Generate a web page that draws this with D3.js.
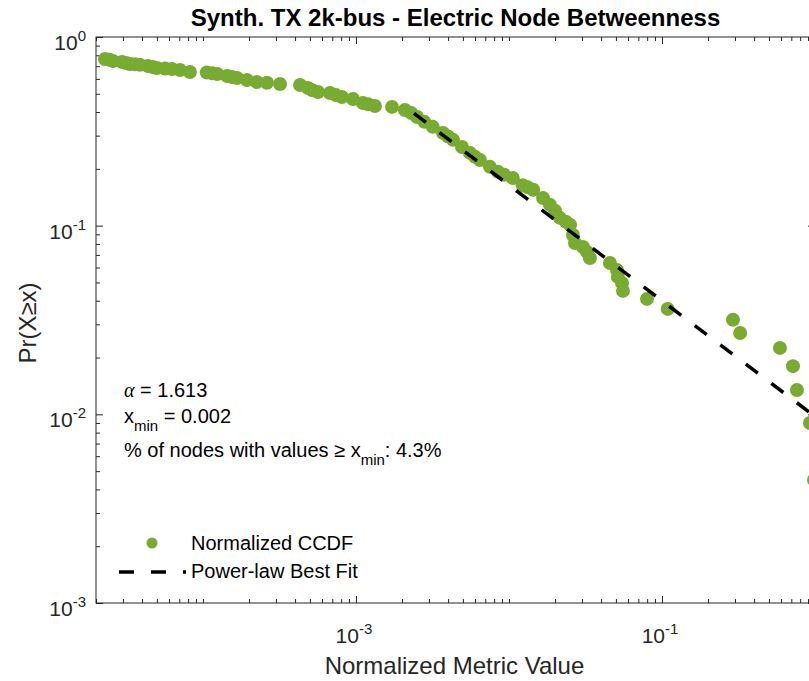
<!DOCTYPE html>
<html><head><meta charset="utf-8">
<script src="https://cdn.jsdelivr.net/npm/d3@7"></script>
<style>
body{margin:0;background:#fff}
text{font-family:"Liberation Sans",Arial,Helvetica,sans-serif}
</style>
</head><body><svg id="c" width="809" height="681"></svg>
<script>
const titleText = "Synth. TX 2k-bus - Electric Node Betweenness";
const xLabelText = "Normalized Metric Value";
const yLabelText = "Pr(X\u2265x)";
const ccdfX = [2.29e-5,2.45e-5,2.58e-5,2.96e-5,3.15e-5,3.33e-5,3.6e-5,3.87e-5,4.37e-5,4.7e-5,5.00e-5,5.65e-5,6.27e-5,7.08e-5,8.22e-5,
  1.06e-4,1.15e-4,1.24e-4,1.44e-4,1.55e-4,1.67e-4,1.94e-4,2.25e-4,2.62e-4,3.19e-4,
  4.31e-4,4.86e-4,5.2e-4,5.65e-4,6.76e-4,7.4e-4,8.10e-4,9.56e-4,1.11e-3,1.2e-3,1.33e-3,
  1.72e-3,2.09e-3,2.3e-3,2.51e-3,2.8e-3,3.18e-3,3.71e-3,4.0e-3,4.31e-3,4.93e-3,5.56e-3,6.0e-3,6.46e-3,7.51e-3,8.47e-3,9.3e-3,
  1.06e-2,1.23e-2,1.32e-2,1.44e-2,1.67e-2,1.85e-2,2.0e-2,2.15e-2,2.35e-2,2.51e-2,2.62e-2,2.70e-2,3.05e-2,3.24e-2,3.38e-2,
  4.57e-2,5.08e-2,5.15e-2,5.48e-2,5.56e-2,
  7.98e-2,0.109,0.291,0.324,0.590,0.718,0.762,0.927,0.985];
const ccdfY = [0.765,0.758,0.746,0.737,0.728,0.719,0.716,0.712,0.702,0.694,0.685,0.680,0.677,0.668,0.652,
  0.648,0.643,0.637,0.621,0.614,0.606,0.592,0.577,0.572,0.564,
  0.557,0.537,0.522,0.511,0.505,0.492,0.481,0.469,0.447,0.440,0.431,
  0.426,0.410,0.395,0.377,0.355,0.334,0.310,0.297,0.285,0.261,0.243,0.232,0.223,0.205,0.193,0.186,
  0.179,0.164,0.160,0.155,0.140,0.129,0.120,0.110,0.105,0.101,0.0893,0.0810,0.0771,0.0726,0.0674,
  0.0634,0.0582,0.0535,0.0497,0.0451,
  0.0409,0.0362,0.0317,0.0270,0.0225,0.0180,0.01346,0.0090,0.00449];
const fitX = [0.002, 1];
const fitY = [0.44, 0.00975];
const xMajorTicks = [1e-3, 1e-1];
const xMajorLabels = ["-3", "-1"];
const yMajorTicks = [1, 1e-1, 1e-2, 1e-3];
const yMajorLabels = ["0", "-1", "-2", "-3"];
const alphaText = "1.613";
const xminText = "0.002";
const pctText = "4.3%";
const legendLabels = ["Normalized CCDF", "Power-law Best Fit"];

const green = "#77AC30", axisCol = "#262626";
const L = 96, R = 815, T = 37, B = 603;
const svg = d3.select("#c");
const x = d3.scaleLog().domain([2e-5, 1]).range([L, R]);
const y = d3.scaleLog().domain([1e-3, 1]).range([B, T]);

function minorTicks(lo, hi) {
  const out = [];
  for (let e = Math.floor(Math.log10(lo)); e <= Math.ceil(Math.log10(hi)); e++) {
    for (let k = 1; k <= 9; k++) {
      const v = k * Math.pow(10, e);
      if (v >= lo * 0.999 && v <= hi * 1.001) out.push(v);
    }
  }
  return out;
}
const xMinor = minorTicks(2e-5, 1).filter(v => !xMajorTicks.some(m => Math.abs(m - v) / m < 1e-6));
const yMinor = minorTicks(1e-3, 1).filter(v => !yMajorTicks.some(m => Math.abs(m - v) / m < 1e-6));

function addAxis(gen, tx, ty, vals, size) {
  const g = svg.append("g").attr("transform", `translate(${tx},${ty})`)
    .call(gen.tickValues(vals).tickSize(size).tickSizeOuter(0).tickFormat(""));
  g.select(".domain").remove();
  g.selectAll("line").attr("stroke", axisCol).attr("stroke-width", 1);
}
addAxis(d3.axisBottom(x), 0, B, xMinor, -4);
addAxis(d3.axisBottom(x), 0, B, xMajorTicks, -7);
addAxis(d3.axisTop(x), 0, T, xMinor, -4);
addAxis(d3.axisTop(x), 0, T, xMajorTicks, -7);
addAxis(d3.axisLeft(y), L, 0, yMinor, -4);
addAxis(d3.axisLeft(y), L, 0, yMajorTicks, -7);
addAxis(d3.axisRight(y), R, 0, yMinor, -4);
addAxis(d3.axisRight(y), R, 0, yMajorTicks, -7);

svg.append("rect").attr("x", L).attr("y", T).attr("width", R - L).attr("height", B - T)
  .attr("fill", "none").attr("stroke", axisCol).attr("stroke-width", 1);

// tick labels
xMajorTicks.forEach((v, i) => {
  const t = svg.append("text").attr("x", x(v) - 2).attr("y", 643).attr("text-anchor", "middle")
    .attr("fill", axisCol).attr("font-size", 21);
  t.append("tspan").text("10");
  t.append("tspan").attr("dy", -9).attr("font-size", 15).text(xMajorLabels[i]);
});
yMajorTicks.forEach((v, i) => {
  const t = svg.append("text").attr("x", 86).attr("y", y(v) + 13).attr("text-anchor", "end")
    .attr("fill", axisCol).attr("font-size", 21);
  t.append("tspan").text("10");
  t.append("tspan").attr("dy", -9).attr("font-size", 15).text(yMajorLabels[i]);
});

// data
const pts = ccdfX.map((v, i) => [v, ccdfY[i]]);
svg.append("g").selectAll("circle").data(pts).join("circle")
  .attr("cx", d => x(d[0])).attr("cy", d => y(d[1])).attr("r", 7).attr("fill", green);

// fit line
const line = d3.line().x(d => x(d[0])).y(d => y(d[1]));
svg.append("path").datum(fitX.map((v, i) => [v, fitY[i]])).attr("d", line)
  .attr("fill", "none").attr("stroke", "#000").attr("stroke-width", 3.5)
  .attr("stroke-dasharray", "15,17").attr("stroke-dashoffset", 17);

// title & labels
svg.append("text").attr("x", (L + R) / 2).attr("y", 26).attr("text-anchor", "middle")
  .attr("font-size", 24).attr("font-weight", "bold").attr("fill", "#000").text(titleText);
svg.append("text").attr("x", (L + R) / 2 - 1).attr("y", 674).attr("text-anchor", "middle")
  .attr("font-size", 24).attr("fill", axisCol).text(xLabelText);
svg.append("text").attr("transform", `translate(36,323) rotate(-90)`).attr("text-anchor", "middle")
  .attr("font-size", 24).attr("fill", axisCol).text(yLabelText);

// annotation
const a1 = svg.append("text").attr("x", 124).attr("y", 397).attr("font-size", 20).attr("fill", "#000");
a1.append("tspan").attr("font-family", "'Liberation Serif','DejaVu Serif',serif").attr("font-style", "italic").text("\u03b1");
a1.append("tspan").text(" = " + alphaText);
const a2 = svg.append("text").attr("x", 124).attr("y", 423).attr("font-size", 20).attr("fill", "#000");
a2.append("tspan").text("x");
a2.append("tspan").attr("dy", 8).attr("font-size", 15).text("min");
a2.append("tspan").attr("dy", -8).text(" = " + xminText);
const a3 = svg.append("text").attr("x", 124).attr("y", 457).attr("font-size", 20).attr("fill", "#000");
a3.append("tspan").text("% of nodes with values \u2265 x");
a3.append("tspan").attr("dy", 8).attr("font-size", 15).text("min");
a3.append("tspan").attr("dy", -8).text(": " + pctText);

// legend
svg.append("circle").attr("cx", 152).attr("cy", 543).attr("r", 5.5).attr("fill", green);
svg.append("text").attr("x", 191).attr("y", 550).attr("font-size", 20).attr("fill", "#000").text(legendLabels[0]);
svg.append("line").attr("x1", 119).attr("x2", 186).attr("y1", 572).attr("y2", 572)
  .attr("stroke", "#000").attr("stroke-width", 3.5).attr("stroke-dasharray", "15,17");
svg.append("text").attr("x", 191).attr("y", 578).attr("font-size", 20).attr("fill", "#000").text(legendLabels[1]);
</script>
</body></html>
